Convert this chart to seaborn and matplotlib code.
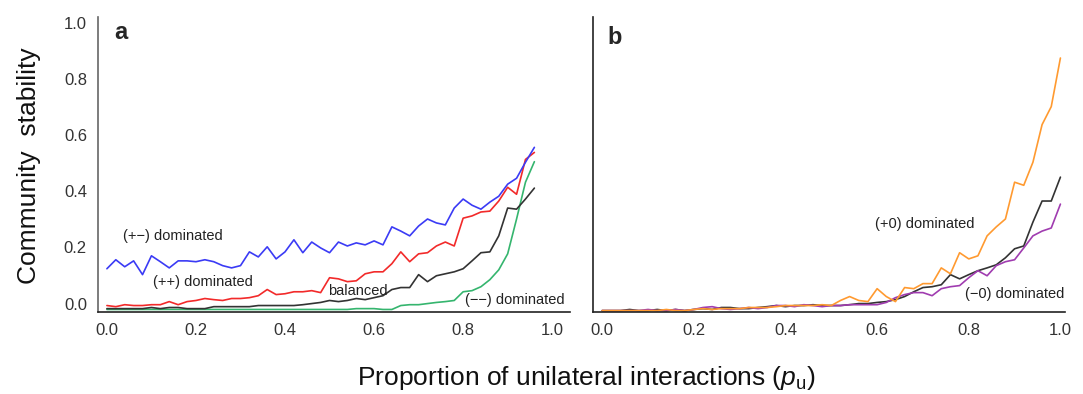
import numpy as np
import pandas as pd
import matplotlib
matplotlib.use("Agg")
import matplotlib.pyplot as plt
import seaborn as sns

# ---------------- data ----------------
# panel a: x = proportion of unilateral interactions
pu_a = np.round(np.arange(0, 0.961, 0.02), 2)
pm_dom = [0.124, 0.156, 0.131, 0.152, 0.103, 0.170, 0.149, 0.127, 0.152, 0.152,
          0.149, 0.156, 0.149, 0.135, 0.127, 0.135, 0.184, 0.166, 0.202, 0.159,
          0.184, 0.227, 0.181, 0.219, 0.198, 0.181, 0.219, 0.205, 0.216, 0.209,
          0.223, 0.209, 0.273, 0.258, 0.241, 0.276, 0.301, 0.287, 0.280, 0.340,
          0.372, 0.350, 0.336, 0.361, 0.382, 0.425, 0.446, 0.503, 0.556]
pp_dom = [-0.007, -0.011, -0.004, -0.007, -0.007, -0.004, -0.004, 0.007, -0.004, 0.007,
          0.011, 0.018, 0.014, 0.011, 0.018, 0.018, 0.021, 0.028, 0.050, 0.032,
          0.035, 0.042, 0.042, 0.046, 0.039, 0.092, 0.088, 0.078, 0.081, 0.106,
          0.113, 0.113, 0.142, 0.184, 0.149, 0.177, 0.181, 0.205, 0.219, 0.205,
          0.304, 0.312, 0.326, 0.329, 0.365, 0.414, 0.389, 0.513, 0.538]
balanced_a = [-0.018, -0.018, -0.018, -0.018, -0.018, -0.014, -0.018, -0.014, -0.014, -0.018,
              -0.018, -0.018, -0.011, -0.011, -0.011, -0.011, -0.011, -0.007, -0.007, -0.007,
              -0.007, -0.007, -0.004, 0.000, 0.004, 0.011, 0.007, 0.011, 0.018, 0.014,
              0.021, 0.028, 0.050, 0.057, 0.057, 0.103, 0.078, 0.099, 0.106, 0.113,
              0.124, 0.152, 0.181, 0.184, 0.241, 0.340, 0.336, 0.372, 0.411]
mm_dom = [-0.021, -0.021, -0.021, -0.021, -0.021, -0.021, -0.021, -0.021, -0.021, -0.021,
          -0.021, -0.021, -0.021, -0.021, -0.021, -0.021, -0.021, -0.021, -0.021, -0.021,
          -0.021, -0.021, -0.021, -0.021, -0.021, -0.021, -0.021, -0.021, -0.018, -0.018,
          -0.018, -0.021, -0.021, -0.007, -0.004, -0.004, 0.000, 0.004, 0.007, 0.011,
          0.042, 0.046, 0.060, 0.085, 0.120, 0.177, 0.301, 0.432, 0.505]

# panel b
pu_b = np.round(np.arange(0, 1.001, 0.02), 2)
p0_dom = [-0.025, -0.025, -0.025, -0.025, -0.025, -0.025, -0.025, -0.021, -0.025, -0.025,
          -0.021, -0.018, -0.021, -0.018, -0.018, -0.018, -0.014, -0.014, -0.014, -0.011,
          -0.007, -0.007, -0.007, -0.007, -0.004, -0.007, 0.011, 0.025, 0.011, 0.007,
          0.053, 0.025, 0.007, 0.057, 0.053, 0.071, 0.071, 0.127, 0.106, 0.181,
          0.159, 0.170, 0.241, 0.273, 0.301, 0.432, 0.421, 0.503, 0.637, 0.701, 0.874]
balanced_b = [-0.025, -0.025, -0.025, -0.021, -0.025, -0.025, -0.021, -0.025, -0.021, -0.025,
              -0.021, -0.018, -0.021, -0.014, -0.014, -0.018, -0.018, -0.014, -0.011, -0.007,
              -0.011, -0.007, -0.007, -0.004, -0.007, -0.007, -0.007, -0.004, 0.000, 0.000,
              0.004, 0.007, 0.014, 0.025, 0.042, 0.057, 0.060, 0.067, 0.103, 0.088,
              0.103, 0.117, 0.127, 0.138, 0.163, 0.195, 0.205, 0.290, 0.365, 0.365, 0.450]
m0_dom = [-0.025, -0.025, -0.025, -0.025, -0.025, -0.021, -0.025, -0.025, -0.021, -0.025,
          -0.021, -0.014, -0.011, -0.018, -0.021, -0.018, -0.014, -0.018, -0.014, -0.007,
          -0.007, -0.011, -0.004, -0.007, -0.011, -0.007, -0.007, -0.004, -0.004, -0.004,
          -0.004, 0.004, 0.021, 0.032, 0.039, 0.039, 0.028, 0.053, 0.060, 0.064,
          0.092, 0.117, 0.099, 0.135, 0.149, 0.156, 0.198, 0.241, 0.258, 0.269, 0.354]

x_ticks = [0.0, 0.2, 0.4, 0.6, 0.8, 1.0]
y_ticks = [0.0, 0.2, 0.4, 0.6, 0.8, 1.0]

# ---------------- style ----------------
sns.set_style("white")
plt.rcParams['font.family'] = ['Liberation Sans', 'DejaVu Sans']
plt.rcParams['mathtext.fontset'] = 'custom'
plt.rcParams['mathtext.rm'] = 'Liberation Sans'
plt.rcParams['mathtext.it'] = 'Liberation Sans:italic'

dfa = pd.DataFrame({
    "pu": np.concatenate([pu_a] * 4),
    "stability": pm_dom + pp_dom + balanced_a + mm_dom,
    "series": ["pm"] * len(pu_a) + ["pp"] * len(pu_a) + ["bal"] * len(pu_a) + ["mm"] * len(pu_a),
})
dfb = pd.DataFrame({
    "pu": np.concatenate([pu_b] * 3),
    "stability": p0_dom + balanced_b + m0_dom,
    "series": ["p0"] * len(pu_b) + ["bal"] * len(pu_b) + ["m0"] * len(pu_b),
})
pal_a = {"pm": "#3b3bf5", "pp": "#f22a2a", "bal": "#333333", "mm": "#35b56e"}
pal_b = {"p0": "#ff9a30", "bal": "#333333", "m0": "#a03cb0"}

W, H = 1083, 394
fig = plt.figure(figsize=(W / 100, H / 100), dpi=100)
axa = fig.add_axes([98 / W, 1 - 312 / H, 472 / W, 295 / H])
axb = fig.add_axes([593 / W, 1 - 312 / H, 472 / W, 295 / H])

sns.lineplot(data=dfa, x="pu", y="stability", hue="series", palette=pal_a,
             hue_order=["mm", "bal", "pp", "pm"], linewidth=1.2, legend=False, ax=axa)
sns.lineplot(data=dfb, x="pu", y="stability", hue="series", palette=pal_b,
             hue_order=["bal", "m0", "p0"], linewidth=1.2, legend=False, ax=axb)

for ax in (axa, axb):
    ax.set_ylim(-0.03, 1.02)
    ax.set_xticks(x_ticks)
    ax.set_xticklabels([f"{t:.1f}" for t in x_ticks])
    ax.set_yticks(y_ticks)
    ax.set_xlabel("")
    ax.set_ylabel("")
    ax.tick_params(axis="both", length=0, labelsize=12, labelcolor="#333333", pad=8)
    for s in ("top", "right"):
        ax.spines[s].set_visible(False)
    ax.spines["bottom"].set_color("#222222")
    ax.spines["bottom"].set_linewidth(1.2)
    ax.spines["left"].set_linewidth(1.2)

axa.set_xlim(-0.02, 1.04)
axb.set_xlim(-0.02, 1.01)
axa.set_yticklabels([f"{t:.1f}" for t in y_ticks])
axb.set_yticklabels([])
axa.spines["left"].set_color("#666666")
axb.spines["left"].set_color("#222222")

# panel letters
axa.text(0.035, 0.985, "a", transform=axa.transAxes, fontsize=17, fontweight="bold",
         va="top", ha="left")
axb.text(0.03, 0.97, "b", transform=axb.transAxes, fontsize=17, fontweight="bold",
         va="top", ha="left")

# annotations
ann = dict(fontsize=10.5, color="#222222", va="center", ha="left")
axa.text(0.036, 0.241, "(+\u2212) dominated", **ann)
axa.text(0.103, 0.078, "(++) dominated", **ann)
axa.text(0.497, 0.046, "balanced", **ann)
axa.text(0.804, 0.011, "(\u2212\u2212) dominated", **ann)
axb.text(0.595, 0.283, "(+0) dominated", **ann)
axb.text(0.792, 0.035, "(\u22120) dominated", **ann)

fig.text(586 / W, 1 - 378 / H, "Proportion of unilateral interactions ($p_\\mathrm{u}$)",
         fontsize=19, ha="center", va="center", color="#111111")
fig.text(29 / W, 1 - 166 / H, "Community  stability", fontsize=19, rotation=90,
         ha="center", va="center", color="#111111")

fig.savefig("out.png", dpi=100)
